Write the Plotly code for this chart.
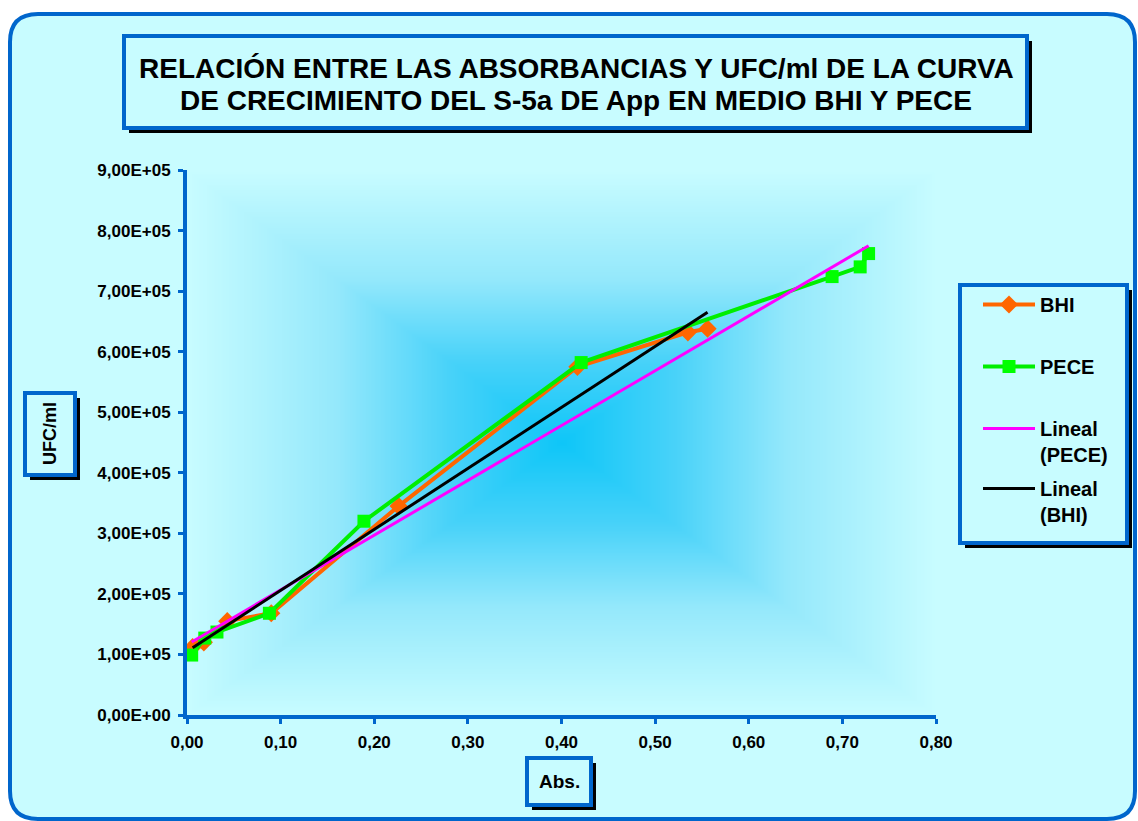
import numpy as np
import plotly.graph_objects as go

# Absorbance vs. UFC/ml readings for the S-5a growth curve
abs_bhi = [0.006, 0.018, 0.043, 0.090, 0.226, 0.417, 0.535, 0.556]
ufc_bhi = [1.12e5, 1.20e5, 1.55e5, 1.68e5, 3.45e5, 5.75e5, 6.32e5, 6.38e5]

abs_pece = [0.005, 0.019, 0.032, 0.088, 0.189, 0.421, 0.689, 0.719, 0.728]
ufc_pece = [0.99e5, 1.27e5, 1.37e5, 1.68e5, 3.20e5, 5.82e5, 7.24e5, 7.40e5, 7.62e5]

x_tickvals = [0.0, 0.1, 0.2, 0.3, 0.4, 0.5, 0.6, 0.7, 0.8]
x_ticktext = ["0,00", "0,10", "0,20", "0,30", "0,40", "0,50", "0,60", "0,70", "0,80"]
y_tickvals = [0, 1e5, 2e5, 3e5, 4e5, 5e5, 6e5, 7e5, 8e5, 9e5]
y_ticktext = ["0,00E+00", "1,00E+05", "2,00E+05", "3,00E+05", "4,00E+05",
              "5,00E+05", "6,00E+05", "7,00E+05", "8,00E+05", "9,00E+05"]

title_lines = ["RELACIÓN ENTRE LAS ABSORBANCIAS Y UFC/ml DE LA CURVA",
               "DE CRECIMIENTO DEL S-5a DE App EN MEDIO BHI Y PECE"]

X_RANGE = [0, 0.8]
Y_RANGE = [0, 9e5]

W, H = 1138, 821
ML, MR, MT, MB = 187, 202, 170, 106
PW, PH = W - ML - MR, H - MT - MB

FONT = "Liberation Sans, Arial, sans-serif"
BLUE = "#0066CC"
PALE = "#C8FCFF"


def fx(px):
    return (px - ML) / PW


def fy(py):
    return (H - MB - py) / PH


def boxed(x0, y0, x1, y1, fill=PALE, shadow=5):
    """Black drop shadow plus a blue-framed box, given in pixel coordinates."""
    return [
        dict(type="rect", xref="paper", yref="paper",
             x0=fx(x0 + shadow), x1=fx(x1 + shadow),
             y0=fy(y0 + shadow), y1=fy(y1 + shadow),
             fillcolor="black", line=dict(width=0)),
        dict(type="rect", xref="paper", yref="paper",
             x0=fx(x0), x1=fx(x1), y0=fy(y0), y1=fy(y1),
             fillcolor=fill, line=dict(color=BLUE, width=4)),
    ]


def rounded(x0, y0, x1, y1, r):
    ax0, ax1, ay0, ay1 = fx(x0), fx(x1), fy(y0), fy(y1)
    rx, ry = r / PW, r / PH
    p = (f"M{ax0 + rx},{ay0} L{ax1 - rx},{ay0} Q{ax1},{ay0} {ax1},{ay0 - ry} "
         f"L{ax1},{ay1 + ry} Q{ax1},{ay1} {ax1 - rx},{ay1} "
         f"L{ax0 + rx},{ay1} Q{ax0},{ay1} {ax0},{ay1 + ry} "
         f"L{ax0},{ay0 - ry} Q{ax0},{ay0} {ax0 + rx},{ay0} Z")
    return dict(type="path", xref="paper", yref="paper", path=p, layer="below",
                fillcolor=PALE, line=dict(color=BLUE, width=4))


fig = go.Figure()

# "from centre" gradient filling the plot area
gx = np.linspace(X_RANGE[0], X_RANGE[1], 201)
gy = np.linspace(Y_RANGE[0], Y_RANGE[1], 201)
u = np.abs((gx - 0.4) / 0.4)
v = np.abs((gy - 4.5e5) / 4.5e5)
shade = np.maximum(u[None, :], v[:, None])
fig.add_trace(go.Heatmap(
    x=gx, y=gy, z=shade, zmin=0, zmax=1, zsmooth="best", showscale=False,
    hoverinfo="skip", showlegend=False,
    colorscale=[[0, "#0EC6F8"], [0.3, "#48D2F9"], [0.6, "#94E8FB"],
                [1, "#C8FCFF"]],
))

fig.add_trace(go.Scatter(
    x=abs_bhi, y=ufc_bhi, mode="lines+markers", name="BHI", legend="legend",
    showlegend=True,
    line=dict(color="#FF6600", width=4),
    marker=dict(symbol="diamond", size=14, color="#FF6600"),
))
fig.add_trace(go.Scatter(
    x=abs_pece, y=ufc_pece, mode="lines+markers", name="PECE", legend="legend2",
    line=dict(color="#00EE00", width=4),
    marker=dict(symbol="square", size=13, color="#00FF00"),
))

# least-squares trend lines over each series' absorbance range
for xs, ys, name, color, leg in [
    (abs_pece, ufc_pece, "Lineal<br>(PECE)", "#FF00FF", "legend3"),
    (abs_bhi, ufc_bhi, "Lineal<br>(BHI)", "black", "legend4"),
]:
    m, b = np.polyfit(xs, ys, 1)
    ends = np.array([min(xs), max(xs)])
    fig.add_trace(go.Scatter(
        x=ends, y=m * ends + b, mode="lines", name=name, legend=leg,
        line=dict(color=color, width=3),
    ))

legend_font = dict(family=FONT, size=20, color="black", weight="bold")


def legend_at(top_px):
    return dict(x=fx(978), y=fy(top_px), xanchor="left", yanchor="top",
                bgcolor="rgba(0,0,0,0)", borderwidth=0, font=legend_font,
                itemwidth=52, valign="top", tracegroupgap=0)


shapes = [rounded(10, 14, 1135, 819, 28)]
shapes += boxed(124, 36, 1027, 128)
shapes += boxed(25, 393, 75, 475)
shapes += boxed(527, 758, 591, 805)
shapes += boxed(960, 285, 1127, 543)

title_font = dict(family=FONT, size=28, color="black", weight="bold")
annotations = [
    dict(text=line, xref="paper", yref="paper", x=fx(576), y=fy(ypx),
         showarrow=False, xanchor="center", yanchor="middle", font=title_font)
    for line, ypx in zip(title_lines, [68, 100])
]
annotations += [
    dict(text="UFC/ml", textangle=-90, xref="paper", yref="paper",
         x=fx(50), y=fy(434), showarrow=False, xanchor="center", yanchor="middle",
         font=dict(family=FONT, size=18, color="black", weight="bold")),
    dict(text="Abs.", xref="paper", yref="paper", x=fx(559), y=fy(781),
         showarrow=False, xanchor="center", yanchor="middle",
         font=dict(family=FONT, size=19, color="black", weight="bold")),
]

tick_font = dict(family=FONT, size=17, color="black", weight="bold")

fig.update_layout(
    width=W, height=H, autosize=False, showlegend=True,
    margin=dict(l=ML, r=MR, t=MT, b=MB),
    paper_bgcolor="white", plot_bgcolor="rgba(0,0,0,0)",
    shapes=shapes, annotations=annotations,
    legend=legend_at(285), legend2=legend_at(347),
    legend3=legend_at(409), legend4=legend_at(469),
    xaxis=dict(range=X_RANGE, tickvals=x_tickvals, ticktext=x_ticktext,
               showgrid=False, zeroline=False, showline=True, linecolor=BLUE,
               linewidth=4, ticks="outside", ticklen=5, tickwidth=3,
               tickcolor=BLUE, tickfont=tick_font, ticklabelstandoff=4),
    yaxis=dict(range=Y_RANGE, tickvals=y_tickvals, ticktext=y_ticktext,
               showgrid=False, zeroline=False, showline=True, linecolor=BLUE,
               linewidth=4, ticks="outside", ticklen=5, tickwidth=3,
               tickcolor=BLUE, tickfont=tick_font, ticklabelstandoff=4),
)

fig.write_html("out.html")
